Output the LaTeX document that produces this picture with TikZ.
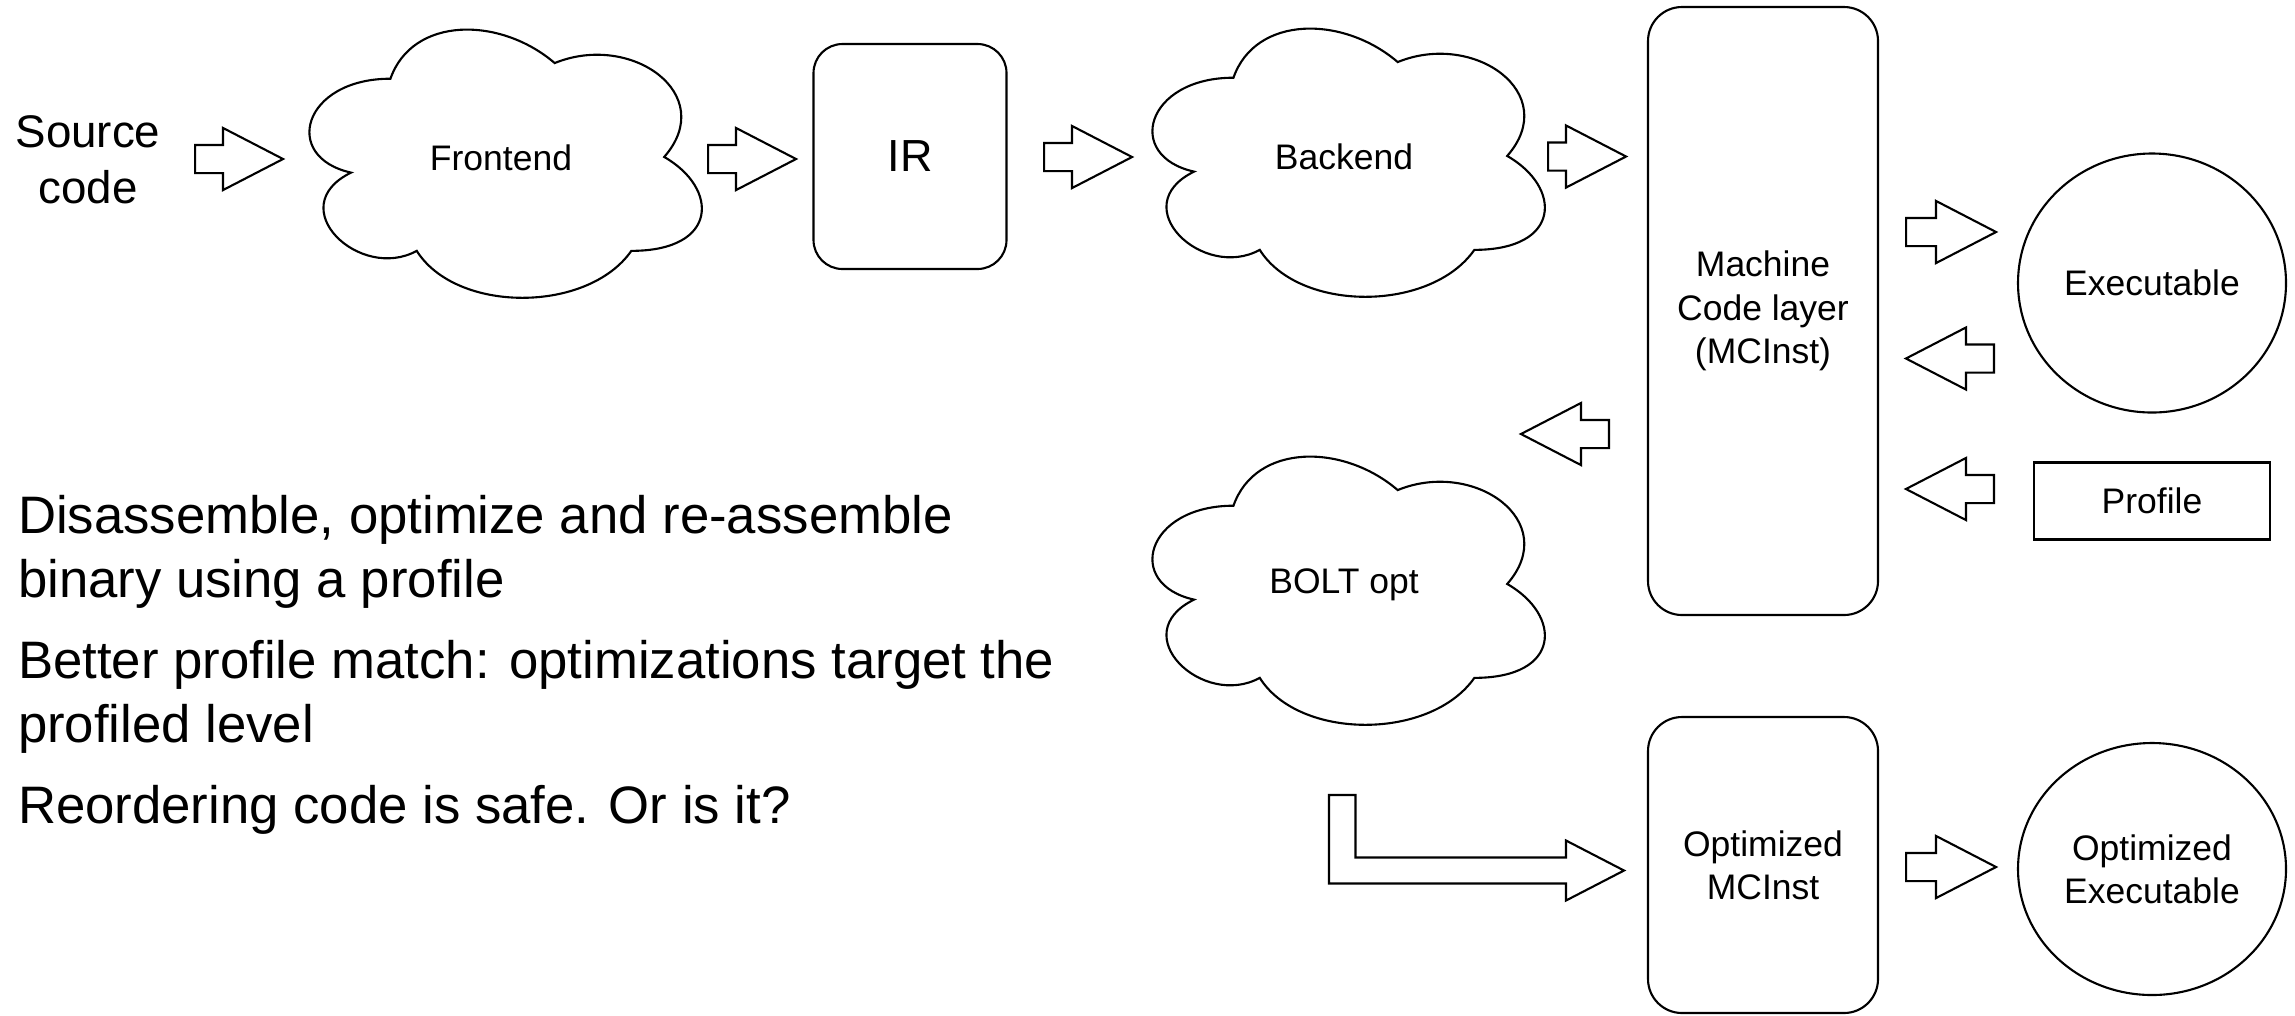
\documentclass[tikz,border=0pt]{standalone}
\usepackage{fontspec}
\setmainfont{Liberation Sans}
\usetikzlibrary{positioning,shapes.geometric,shapes.arrows,calc}

% cloud outline drawn inside the box of node #1
\newcommand{\cloudline}[1]{%
  \draw[shift={(#1.north west)},x=4.38cm,y=-3.13cm]
    (0.25,0.25) .. controls (0.05,0.25) and (0,0.5) .. (0.16,0.55)
    .. controls (0,0.66) and (0.18,0.9) .. (0.31,0.8)
    .. controls (0.4,1) and (0.7,1) .. (0.8,0.8)
    .. controls (1,0.8) and (1,0.6) .. (0.875,0.5)
    .. controls (1,0.3) and (0.8,0.1) .. (0.625,0.2)
    .. controls (0.5,0.05) and (0.3,0.05) .. (0.25,0.25) -- cycle;}

\begin{document}
\begin{tikzpicture}[line width=0.6pt,
  sm/.style={font=\fontsize{10.1}{12.3}\selectfont},
  box/.style={draw,rounded corners=0.34cm,align=center,inner sep=0pt,sm},
  blob/.style={minimum width=4.38cm,minimum height=3.13cm,inner sep=0pt,sm},
  oval/.style={draw,ellipse,minimum width=2.68cm,minimum height=2.56cm,inner sep=0pt,align=center,sm},
  barrow/.style={draw,single arrow,single arrow head extend=0.17cm,single arrow tip angle=54.7,
    inner xsep=0pt,inner ysep=0.13cm,minimum width=0pt,minimum height=#1,anchor=tail},
  barrow/.default=0.88cm,
  larrow/.style={barrow=#1,shape border rotate=180},
  larrow/.default=0.88cm]
  \useasboundingbox (0,0) rectangle (22.95,-10.15);
  % compiler pipeline (top row)
  \node[align=center,font=\fontsize{13}{16}\selectfont] (src) at (0.88,-1.60) {Source\\code};
  \node[barrow] (a1) at (1.94,-1.59) {};
  \node[blob] (fe) at (5.01,-1.58) {Frontend};
  \cloudline{fe}
  \node[barrow] (a2) at (7.07,-1.59) {};
  \node[box,rounded corners=0.29cm,minimum width=1.93cm,minimum height=2.25cm,
    font=\fontsize{12.8}{15}\selectfont] (ir) at (9.10,-1.565) {IR};
  \node[barrow] (a3) at (10.43,-1.57) {};
  \node[blob] (be) at (13.44,-1.57) {Backend};
  \cloudline{be}
  \node[barrow=0.78cm] (a4) at (15.47,-1.565) {};
  % machine code layer and its neighbours
  \node[box,minimum width=2.30cm,minimum height=6.08cm] (mc) at (17.63,-3.11)
    {Machine\\Code layer\\(MCInst)};
  \node[barrow=0.90cm] (a5) at (19.05,-2.32) {};
  \node[oval,minimum height=2.59cm] (exe) at (21.52,-2.83) {Executable};
  \node[larrow] (a6) at (19.95,-3.585) {};
  \node[draw,sm,minimum width=2.36cm,minimum height=0.77cm,inner sep=0pt] (prof)
    at (21.52,-5.01) {Profile};
  \node[larrow] (a8) at (19.95,-4.89) {};
  % BOLT round trip
  \node[larrow] (a7) at (16.10,-4.34) {};
  \node[blob] (bolt) at (13.44,-5.85) {BOLT opt};
  \cloudline{bolt}
  \draw (13.29,-7.95) -- (13.29,-8.835) -- (15.66,-8.835) -- (15.66,-9.005)
    -- (16.24,-8.705) -- (15.66,-8.405) -- (15.66,-8.575) -- (13.555,-8.575)
    -- (13.555,-7.95) -- cycle;
  \node[box,minimum width=2.30cm,minimum height=2.96cm] (optmc) at (17.63,-8.65)
    {Optimized\\MCInst};
  \node[barrow=0.90cm] (a9) at (19.05,-8.67) {};
  \node[oval,minimum height=2.52cm] (optexe) at (21.52,-8.69) {Optimized\\Executable};
  % notes
  \node[anchor=base west,align=left,inner sep=0pt,font=\fontsize{15}{18.2}\selectfont] (notes)
    at (0.17,-8.23) {Disassemble, optimize and re-assemble\\binary using a profile\\[0.17cm]
    Better profile match: optimizations target the\\profiled level\\[0.17cm]
    Reordering code is safe. Or is it?};
\end{tikzpicture}
\end{document}
